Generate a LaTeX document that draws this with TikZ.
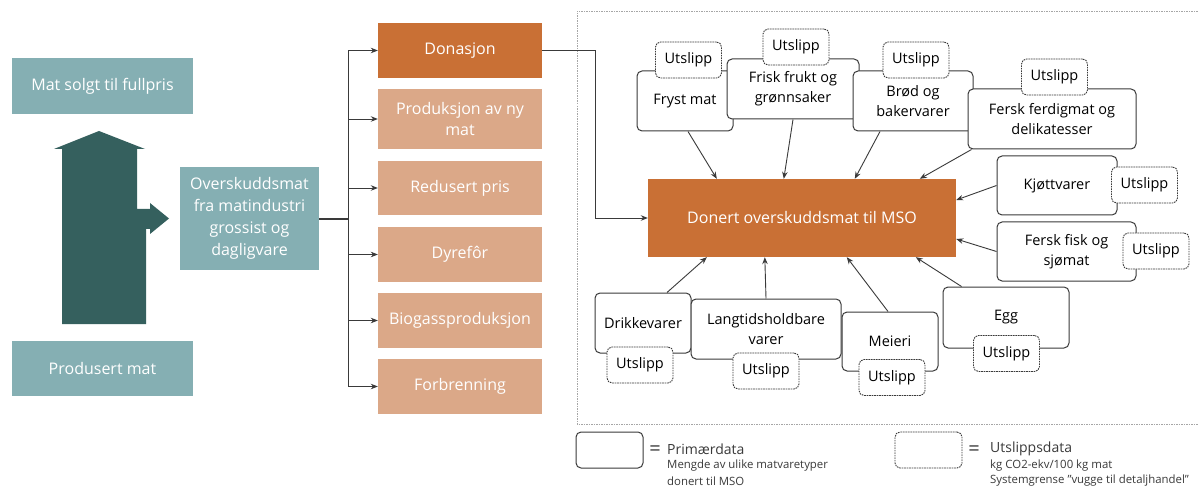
\documentclass[tikz,border=0pt]{standalone}
\usepackage{fontspec}
\setmainfont{Open Sans}
\usetikzlibrary{arrows.meta,calc}

\definecolor{tealbox}{HTML}{85AFB3}
\definecolor{tealdark}{HTML}{35605E}
\definecolor{orangedark}{HTML}{C97035}
\definecolor{salmon}{HTML}{DBA888}
\definecolor{linegray}{HTML}{3A3A3A}

\tikzset{
  tealnode/.style={fill=tealbox, text=white, inner sep=0pt, align=center,
    font=\fontsize{16}{22}\selectfont},
  routenode/.style={fill=salmon, text=white, inner sep=0pt, align=center,
    minimum width=164pt, font=\fontsize{16}{21}\selectfont},
  primbox/.style={draw=linegray, line width=1pt, rounded corners=5pt, fill=white,
    inner sep=0pt, align=center, font=\fontsize{14.5}{20}\selectfont},
  emisbox/.style={draw=linegray, line width=0.9pt, rounded corners=5pt, fill=white,
    dash pattern=on 1.6pt off 0.9pt, inner sep=0pt, minimum width=66pt,
    minimum height=36pt, font=\fontsize{14.5}{18}\selectfont},
  flow/.style={draw=linegray, line width=0.9pt, -{Stealth[length=7pt,width=5.5pt]}},
  legtitle/.style={anchor=west, inner sep=0pt, text=linegray, font=\fontsize{14}{16}\selectfont},
  legsub/.style={anchor=west, inner sep=0pt, text=linegray, font=\fontsize{11.4}{13}\selectfont},
}

\begin{document}
\begin{tikzpicture}[x=1pt, y=-1pt]
\useasboundingbox[fill=white] (0,0) rectangle (1198,486);

% system boundary
\draw[gray!70, line width=0.8pt, dash pattern=on 1.5pt off 1pt]
  (1205,11) -- (577,11) -- (577,424) -- (1205,424);

% left column
\node[tealnode, minimum width=181pt, minimum height=56pt] (sold) at (102.5,86) {Mat solgt til fullpris};
\node[tealnode, minimum width=181pt, minimum height=55pt] (prod) at (102.5,368.5) {Produsert mat};
\node[tealnode, minimum width=139pt, minimum height=103pt] (surplus) at (249.5,218.5)
  {Overskuddsmat\\fra matindustri\\grossist og\\dagligvare};

% split flow arrow
\fill[tealdark] (62,324) -- (62,149) -- (54,149) -- (99,131) -- (145,149) -- (137,149)
  -- (137,209) -- (150,209) -- (150,203) -- (169,218.5) -- (150,234) -- (150,229)
  -- (146,229) -- (146,324) -- cycle;

% routes
\node[routenode, fill=orangedark, minimum height=55pt] (don) at (460,50.5) {Donasjon};
\node[routenode, minimum height=60pt] (newfood) at (460,119) {Produksjon av ny\\mat};
\node[routenode, minimum height=54pt] (reduced) at (460,188) {Redusert pris};
\node[routenode, minimum height=55pt] (feed) at (460,254.5) {Dyrefôr};
\node[routenode, minimum height=55pt] (biogas) at (460,320.5) {Biogassproduksjon};
\node[routenode, minimum height=55pt] (burn) at (460,386.5) {Forbrenning};

\coordinate (fan) at (348,219);
\draw[linegray, line width=2.4pt] (surplus.east |- fan) -- (fan);
\draw[linegray, line width=0.9pt] (fan |- don.west) -- (fan |- burn.west);
\foreach \r in {don,newfood,reduced,feed,biogas,burn}
  \draw[flow] (fan |- \r.west) -- (\r.west);

% central node
\node[fill=orangedark, text=white, inner sep=0pt, minimum width=308pt, minimum height=78pt,
  font=\fontsize{16}{18}\selectfont] (mso) at (802,218) {Donert overskuddsmat til MSO};

\coordinate (dbend) at (595,50.5);
\draw[flow] (don.east) -- (dbend) |- (mso.west);

% food categories (primary data)
\node[primbox, minimum width=96pt, minimum height=60pt] (fryst) at (685,101) {Fryst mat};
\node[primbox, minimum width=132pt, minimum height=60pt] (frisk) at (793,89) {Frisk frukt og\\grønnsaker};
\node[primbox, minimum width=120pt, minimum height=60pt] (brod) at (913,101) {Brød og\\bakervarer};
\node[primbox, minimum width=168pt, minimum height=60pt] (fersk) at (1052,119) {Fersk ferdigmat og\\delikatesser};
\node[primbox, minimum width=120pt, minimum height=59pt] (kjott) at (1057,185.5) {Kjøttvarer};
\node[primbox, minimum width=139pt, minimum height=59pt] (fisk) at (1066.5,251.5) {Fersk fisk og\\sjømat};
\node[primbox, minimum width=96pt, minimum height=60pt] (drikke) at (643,323) {Drikkevarer};
\node[primbox, minimum width=150pt, minimum height=60pt] (lang) at (766,329) {Langtidsholdbare\\varer};
\node[primbox, minimum width=96pt, minimum height=59pt] (meieri) at (890,341.5) {Meieri};
\node[primbox, minimum width=126pt, minimum height=61pt] (egg) at (1006,317.5) {Egg};

% emission data
\node[emisbox] (u1) at (688.5,60) {Utslipp};
\node[emisbox] (u2) at (796,47) {Utslipp};
\node[emisbox] (u3) at (916,60) {Utslipp};
\node[emisbox] (u4) at (1054.5,77) {Utslipp};
\node[emisbox] (u5) at (1144.5,185) {Utslipp};
\node[emisbox] (u6) at (1156,251) {Utslipp};
\node[emisbox] (u7) at (640,365) {Utslipp};
\node[emisbox] (u8) at (766,371) {Utslipp};
\node[emisbox] (u9) at (892,377.5) {Utslipp};
\node[emisbox] (u10) at (1006.5,353.5) {Utslipp};

% flows into the central node
\draw[flow] ([xshift=3pt]fryst.south) -- ([xshift=69pt]mso.north west);
\draw[flow] (frisk.south) -- ([xshift=136pt]mso.north west);
\draw[flow] ([xshift=-33pt]brod.south) -- ([xshift=207pt]mso.north west);
\draw[flow] ([xshift=4pt]fersk.south west) -- ([xshift=272pt]mso.north west);
\draw[flow] (kjott.west) -- ([yshift=18pt]mso.east);
\draw[flow] (fisk.west) -- ([yshift=-21pt]mso.east);
\draw[flow] ([xshift=19pt]egg.north west) -- ([xshift=268pt]mso.south west);
\draw[flow] ([xshift=-2pt]meieri.north) -- ([xshift=199pt]mso.south west);
\draw[flow] (lang.north) -- ([xshift=117pt]mso.south west);
\draw[flow] ([xshift=24pt]drikke.north) -- ([xshift=59pt]mso.south west);

% legend
\node[primbox, minimum width=67pt, minimum height=36pt] (legprim) at (609.5,450) {};
\node[inner sep=0pt, text=linegray, font=\fontsize{20}{20}\selectfont] (eq1) at (655,451) {=};
\node[legtitle] (legprimt) at (667,449) {Primærdata};
\node[legsub] (legprims1) at (667,466) {Mengde av ulike matvaretyper};
\node[legsub] (legprims2) at (667,481) {donert til MSO};

\node[emisbox, minimum width=67pt] (legemis) at (928.5,450) {};
\node[inner sep=0pt, text=linegray, font=\fontsize{20}{20}\selectfont] (eq2) at (974,451) {=};
\node[legtitle] (legemist) at (990,449) {Utslippsdata};
\node[legsub] (legemiss1) at (990,466) {kg CO2-ekv/100 kg mat};
\node[legsub] (legemiss2) at (990,481) {Systemgrense \symbol{34}vugge til detaljhandel\symbol{34}};
\end{tikzpicture}
\end{document}
